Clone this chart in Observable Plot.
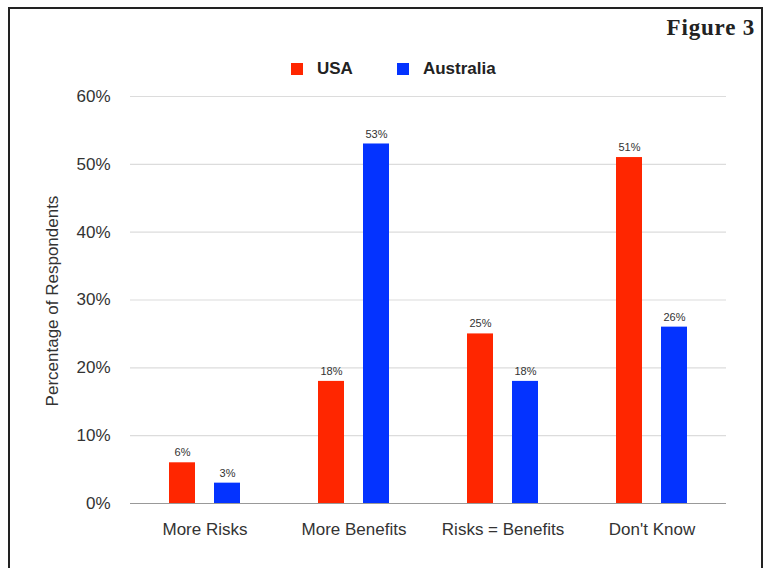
<!DOCTYPE html>
<html><head><meta charset="utf-8">
<script src="https://cdn.jsdelivr.net/npm/d3@7"></script>
<script src="https://cdn.jsdelivr.net/npm/@observablehq/plot@0.6"></script>
<style>
body{margin:0;background:#fff;}
#wrap{position:relative;width:766px;height:568px;overflow:hidden;background:#fff;}
#frame{position:absolute;left:8px;top:7px;width:751px;height:640px;border:2px solid #222;}
#fig{position:absolute;right:11px;top:15px;line-height:1;letter-spacing:0.8px;font:bold 23px "Liberation Serif",serif;color:#222;}
#legend{position:absolute;top:59px;left:291px;height:20px;display:flex;align-items:center;font:bold 17px "Liberation Sans",Arial,sans-serif;color:#222;}
#legend .item{display:flex;align-items:center;margin-right:44px;}
#legend .sw{width:12px;height:12px;margin-right:14px;}
#ylabel{position:absolute;left:53px;top:301px;transform:translate(-50%,-50%) rotate(-90deg);white-space:nowrap;font:17px "Liberation Sans",Arial,sans-serif;color:#333;}
#chart{position:absolute;left:0;top:0;}
</style></head>
<body>
<div id="wrap">
  <div id="frame"></div>
  <div id="fig">Figure 3</div>
  <div id="legend"></div>
  <div id="chart"></div>
  <div id="ylabel"></div>
</div>
<script>
const categories = ["More Risks", "More Benefits", "Risks = Benefits", "Don't Know"];
const series = ["USA", "Australia"];
const usa = [6, 18, 25, 51];
const australia = [3, 53, 18, 26];
const colors = ["#ff2600", "#0433ff"];
const yTicks = [0, 10, 20, 30, 40, 50, 60];
const yLabel = "Percentage of Respondents";

const data = categories.flatMap((c, i) => [
  {category: c, country: series[0], value: usa[i]},
  {category: c, country: series[1], value: australia[i]}
]);

const legend = document.getElementById("legend");
series.forEach((s, i) => {
  const item = document.createElement("div");
  item.className = "item";
  const sw = document.createElement("span");
  sw.className = "sw";
  sw.style.background = colors[i];
  item.appendChild(sw);
  item.appendChild(document.createTextNode(s));
  legend.appendChild(item);
});
document.getElementById("ylabel").textContent = yLabel;

const chart = Plot.plot({
  width: 766, height: 568,
  marginTop: 96, marginBottom: 65, marginLeft: 128, marginRight: 39,
  style: {fontFamily: "'Liberation Sans', Arial, sans-serif", fontSize: "17px", color: "#333", background: "transparent", overflow: "visible"},
  facet: {data, x: "category"},
  fx: {domain: categories, padding: 0, label: null, tickSize: 0, tickPadding: 19, axis: "bottom"},
  x: {domain: series, paddingInner: 0.413, paddingOuter: 0.837, axis: null},
  y: {domain: [0, 60], ticks: yTicks, tickFormat: d => d + "%", tickSize: 0, tickPadding: 20, label: null},
  color: {domain: series, range: colors},
  marks: [
    Plot.ruleY(yTicks.slice(1), {stroke: "#dcdcdc", strokeWidth: 1.2}),
    Plot.barY(data, {x: "country", y: "value", fill: "country"}),
    Plot.ruleY([0], {stroke: "#999", strokeWidth: 1.2}),
    Plot.text(data, {x: "country", y: "value", text: d => d.value + "%", dy: -10, fontSize: 11, fill: "#333"})
  ]
});
document.getElementById("chart").appendChild(chart);
</script>
</body></html>
